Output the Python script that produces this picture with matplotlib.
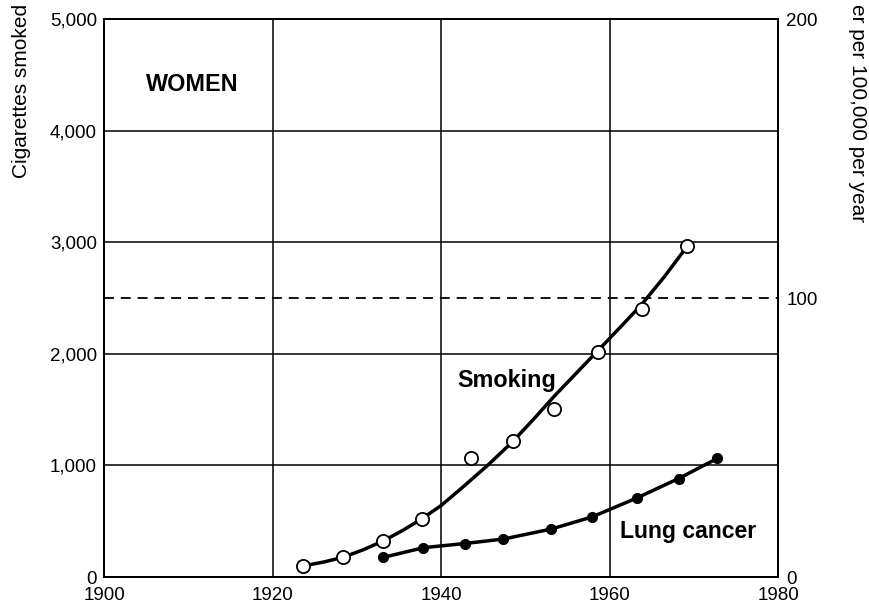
import matplotlib
matplotlib.use("Agg")
import matplotlib.pyplot as plt
from matplotlib.ticker import FuncFormatter

plt.rcParams['font.family'] = ['Liberation Sans', 'DejaVu Sans']

# Smoking: cigarettes per woman per year (open circles)
smoking_years = [1923.6, 1928.4, 1933.1, 1937.7, 1943.5, 1948.5, 1953.4, 1958.6, 1963.8, 1969.2]
smoking_vals = [99, 177, 322, 520, 1066, 1216, 1502, 2018, 2405, 2967]

# Smoothed smoking trend curve
trend_years = [1923.6, 1926.0, 1928.4, 1930.8, 1933.1, 1935.4, 1937.7, 1940.0, 1942.5,
               1945.6, 1948.5, 1951.0, 1953.4, 1956.0, 1958.6, 1961.2, 1963.8, 1966.5, 1969.2]
trend_vals = [99, 133, 177, 245, 322, 415, 520, 640, 800,
              1005, 1213, 1415, 1617, 1822, 2027, 2232, 2441, 2690, 2961]

# Lung cancer deaths per 100,000 per year (filled circles, right axis)
cancer_years = [1933.1, 1937.9, 1942.8, 1947.4, 1953.1, 1957.9, 1963.3, 1968.2, 1972.8]
cancer_vals = [7.0, 10.5, 12.0, 13.6, 17.2, 21.5, 28.4, 35.3, 42.5]

x_ticks = [1900, 1920, 1940, 1960, 1980]
left_ticks = [0, 1000, 2000, 3000, 4000, 5000]
right_ticks = [0, 100, 200]
reference_level = 2500

fig = plt.figure(figsize=(8.69, 6.04), dpi=100)
ax = fig.add_axes([0.1197, 0.0447, 0.7756, 0.9238])
ax2 = ax.twinx()

ax.set_xlim(1900, 1980)
ax.set_ylim(0, 5000)
ax2.set_ylim(0, 200)

ax.set_xticks(x_ticks)
ax.set_yticks(left_ticks)
ax2.set_yticks(right_ticks)
ax.yaxis.set_major_formatter(FuncFormatter(lambda v, p: f"{int(v):,}"))

ax.grid(True, color='black', linewidth=1.1)
ax.set_axisbelow(True)
for a in (ax, ax2):
    for s in a.spines.values():
        s.set_linewidth(1.4)
        s.set_color('black')
ax.tick_params(length=0, labelsize=13.5, pad=5)
ax.tick_params(axis='x', pad=7)
ax2.tick_params(length=0, labelsize=13.5, pad=6)

ax.axhline(reference_level, color='black', linewidth=1.3, linestyle=(0, (5.5, 3.8)))

ax.plot(trend_years, trend_vals, color='black', linewidth=2.5, zorder=3,
        solid_joinstyle='round', solid_capstyle='round')
ax.plot(smoking_years, smoking_vals, linestyle='none', marker='o', markersize=9.5,
        markerfacecolor='white', markeredgecolor='black', markeredgewidth=1.3, zorder=4)

ax2.plot(cancer_years, cancer_vals, color='black', linewidth=2.5, marker='o',
         markersize=7, markerfacecolor='black', markeredgecolor='black', zorder=4,
         solid_joinstyle='round')

ax.text(1905, 4410, "WOMEN", fontsize=16.8, fontweight='bold', va='center', ha='left')
ax.text(1942.0, 1760, "Smoking", fontsize=16.8, fontweight='bold', va='center', ha='left')
ax.text(1961.2, 410, "Lung cancer", fontsize=16.6, fontweight='bold', va='center', ha='left')

fig.text(22 / 869, 1 - 178 / 604, "Cigarettes smoked", rotation=90,
         ha='center', va='bottom', fontsize=15)
fig.text(857 / 869, 1 - 222 / 604, "er per 100,000 per year", rotation=270,
         ha='center', va='bottom', fontsize=15)

fig.savefig("out.png", dpi=100)
